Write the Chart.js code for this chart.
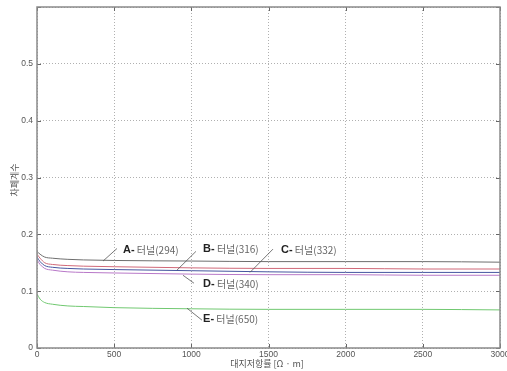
<!DOCTYPE html>
<html>
<head>
<meta charset="utf-8">
<script src="https://cdn.jsdelivr.net/npm/chart.js@4"></script>
<style>
  html, body { margin: 0; padding: 0; background: #fff; }
  #wrap { width: 507px; height: 371px; }
</style>
</head>
<body>
<div id="wrap"><canvas id="c"></canvas></div>
<script>
// 대지저항률에 따른 터널별 차폐계수
const resistivity = [0, 20, 50, 100, 200, 300, 500, 1000, 1500, 2000, 2500, 3000];
const tunnelA = [0.170, 0.165, 0.160, 0.158, 0.156, 0.155, 0.154, 0.153, 0.152, 0.152, 0.152, 0.151];
const tunnelB = [0.165, 0.158, 0.150, 0.147, 0.145, 0.144, 0.143, 0.141, 0.140, 0.140, 0.139, 0.139];
const tunnelC = [0.160, 0.152, 0.145, 0.142, 0.140, 0.139, 0.138, 0.136, 0.134, 0.133, 0.133, 0.133];
const tunnelD = [0.155, 0.147, 0.140, 0.137, 0.134, 0.133, 0.132, 0.130, 0.129, 0.129, 0.128, 0.128];
const tunnelE = [0.095, 0.086, 0.080, 0.077, 0.074, 0.073, 0.071, 0.069, 0.068, 0.068, 0.068, 0.067];

const seriesNames = ['A', 'B', 'C', 'D', 'E'];
const tunnelLengths = ['294', '316', '332', '340', '650'];
const seriesColors = ['#6e6e6e', '#d06878', '#4656a0', '#b878c8', '#70c870'];

// label anchor (text start) and leader line ends, in data units
const labelAt   = [[557, 0.172], [1076, 0.174], [1581, 0.172], [1076, 0.112], [1076, 0.051]];
const leaderFrom = [[428, 0.153], [907, 0.137], [1380, 0.133], [946, 0.128], [972, 0.070]];
const leaderTo   = [[518, 0.175], [1030, 0.170], [1529, 0.174], [1017, 0.114], [1069, 0.049]];

const allSeries = [tunnelA, tunnelB, tunnelC, tunnelD, tunnelE];
const TICK_FONT = '"Liberation Sans", Arial, sans-serif';
const KR_FONT = '"Noto Sans CJK KR", "Noto Sans", sans-serif';

const frame = {
    id: 'frame',
    beforeDatasetsDraw(chart) {
        const { ctx, chartArea: a, scales: { x, y } } = chart;
        ctx.save();
        // short inward ticks on every edge
        ctx.strokeStyle = '#666';
        ctx.lineWidth = 1;
        x.ticks.forEach(t => {
            const px = Math.round(x.getPixelForValue(t.value)) + 0.5;
            ctx.beginPath(); ctx.moveTo(px, a.top); ctx.lineTo(px, a.top + 4); ctx.stroke();
            ctx.beginPath(); ctx.moveTo(px, a.bottom); ctx.lineTo(px, a.bottom - 4); ctx.stroke();
        });
        y.ticks.forEach(t => {
            const py = Math.round(y.getPixelForValue(t.value)) + 0.5;
            ctx.beginPath(); ctx.moveTo(a.right, py); ctx.lineTo(a.right - 4, py); ctx.stroke();
            ctx.beginPath(); ctx.moveTo(a.left, py); ctx.lineTo(a.left + 4, py); ctx.stroke();
        });
        ctx.restore();
    },
    afterDatasetsDraw(chart) {
        const { ctx, chartArea: a, scales: { x, y } } = chart;
        ctx.save();
        ctx.strokeStyle = '#8a8a8a';
        ctx.lineWidth = 1.5;
        ctx.strokeRect(a.left, a.top, a.right - a.left, a.bottom - a.top);

        // series labels with leader lines
        seriesNames.forEach((name, i) => {
            ctx.strokeStyle = '#555';
            ctx.lineWidth = 0.8;
            ctx.beginPath();
            ctx.moveTo(x.getPixelForValue(leaderFrom[i][0]), y.getPixelForValue(leaderFrom[i][1]));
            ctx.lineTo(x.getPixelForValue(leaderTo[i][0]), y.getPixelForValue(leaderTo[i][1]));
            ctx.stroke();

            const tx = x.getPixelForValue(labelAt[i][0]);
            const ty = y.getPixelForValue(labelAt[i][1]);
            ctx.textBaseline = 'middle';
            ctx.textAlign = 'left';
            ctx.fillStyle = '#222';
            ctx.font = 'bold 11px ' + TICK_FONT;
            const head = name + '-';
            ctx.fillText(head, tx, ty);
            const w = ctx.measureText(head).width;
            ctx.fillStyle = '#666';
            ctx.font = '10px ' + KR_FONT;
            ctx.fillText(' 터널(' + tunnelLengths[i] + ')', tx + w, ty);
        });

        // axis titles
        ctx.fillStyle = '#555';
        ctx.font = '9px ' + KR_FONT;
        ctx.textAlign = 'center';
        ctx.textBaseline = 'middle';
        ctx.fillText('대지저항률 [Ω · m]', 267, 364);
        ctx.translate(15, 180);
        ctx.rotate(-Math.PI / 2);
        ctx.fillText('차폐계수', 0, 0);
        ctx.restore();
    }
};

new Chart(document.getElementById('c'), {
    type: 'line',
    data: {
        datasets: allSeries.map((vals, i) => ({
            label: seriesNames[i],
            data: resistivity.map((r, k) => ({ x: r, y: vals[k] })),
            borderColor: seriesColors[i],
            borderWidth: 1,
            pointRadius: 0,
            cubicInterpolationMode: 'monotone',
            fill: false,
        })),
    },
    options: {
        responsive: true,
        maintainAspectRatio: false,
        animation: false,
        layout: { padding: { top: 7, right: 7, left: 0, bottom: 0 } },
        plugins: { legend: { display: false }, tooltip: { enabled: false } },
        scales: {
            x: {
                type: 'linear',
                min: 0, max: 3000,
                border: { display: false, dash: [1, 2] },
                grid: { color: '#b0b0b0', drawTicks: false },
                ticks: {
                    stepSize: 500, color: '#555', font: { family: TICK_FONT, size: 8.5 }, padding: 2, maxRotation: 0,
                    callback: v => String(v),
                },
                afterFit(s) { s.height = 23; s.paddingLeft = 0; s.paddingRight = 0; },
            },
            y: {
                type: 'linear',
                min: 0, max: 0.6,
                border: { display: false, dash: [1, 2] },
                grid: { color: '#b0b0b0', drawTicks: false },
                ticks: {
                    stepSize: 0.1, color: '#555', font: { family: TICK_FONT, size: 8.5 }, padding: 4,
                    callback: v => (v >= 0.59 ? '' : String(Math.round(v * 10) / 10)),
                },
                afterFit(s) { s.width = 37; s.paddingTop = 0; s.paddingBottom = 0; },
            },
        },
    },
    plugins: [frame],
});
</script>
</body>
</html>
